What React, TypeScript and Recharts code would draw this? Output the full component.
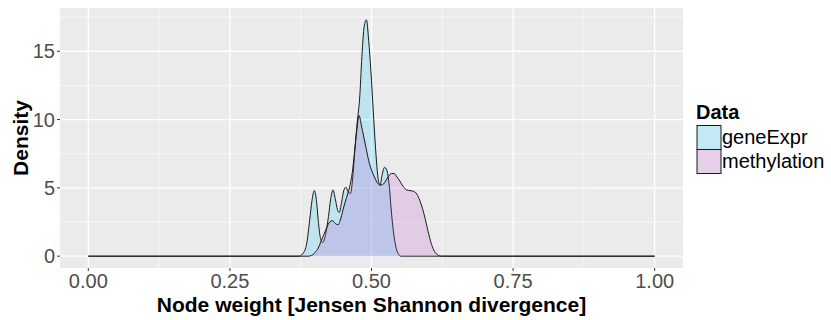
import React from 'react';
import { AreaChart, Area, XAxis, YAxis, CartesianGrid, Label } from 'recharts';

// density estimates for the two data sets (x = node weight, y = density)
const geneX = [
  0, 0.372, 0.378, 0.385, 0.391, 0.395, 0.399, 0.403, 0.406, 0.41, 0.414, 0.419, 0.424, 0.428, 0.432, 0.436,
  0.44, 0.443, 0.447, 0.451, 0.455, 0.459, 0.463, 0.467, 0.471, 0.475, 0.479, 0.483, 0.487, 0.491, 0.495,
  0.499, 0.503, 0.507, 0.511, 0.515, 0.519, 0.523, 0.527, 0.531, 0.535, 0.539, 0.543, 0.547, 0.552, 1,
];
const geneY = [
  0, 0, 0.15, 0.8, 2.7, 4.1, 4.8, 4.0, 2.6, 1.3, 1.0, 1.6, 2.9, 4.2, 4.85, 4.2,
  3.4, 3.2, 3.9, 4.8, 5.05, 4.7, 4.6, 5.8, 8.0, 9.9, 11.5, 14.6, 16.8, 17.3, 15.8,
  13.5, 10.7, 8.0, 5.9, 5.2, 6.0, 6.5, 6.3, 5.3, 3.3, 1.7, 0.7, 0.2, 0, 0,
];

const methX = [
  0, 0.388, 0.394, 0.4, 0.406, 0.411, 0.416, 0.421, 0.426, 0.431, 0.436, 0.441, 0.446, 0.451, 0.456, 0.461,
  0.466, 0.47, 0.474, 0.478, 0.482, 0.486, 0.49, 0.495, 0.5, 0.505, 0.51, 0.515, 0.52, 0.525, 0.53, 0.535,
  0.54, 0.545, 0.55, 0.556, 0.562, 0.568, 0.574, 0.58, 0.585, 0.59, 0.595, 0.6, 0.605, 0.61, 0.616, 0.624, 1,
];
const methY = [
  0, 0, 0.05, 0.25, 0.6, 1.1, 1.6, 2.1, 2.5, 2.6, 2.4, 2.3, 2.8, 3.6, 4.3, 5.0,
  6.1, 7.6, 9.2, 10.3, 9.6, 8.8, 8.0, 7.0, 6.3, 5.8, 5.4, 5.2, 5.25, 5.5, 5.85, 6.05,
  6.05, 5.8, 5.5, 5.1, 4.85, 4.8, 4.75, 4.55, 4.1, 3.5, 2.7, 1.8, 1.0, 0.45, 0.12, 0, 0,
];

const xTicks = [0, 0.25, 0.5, 0.75, 1];
const yTicks = [0, 5, 10, 15];
const xMinor = [0.125, 0.375, 0.625, 0.875];
const yMinor = [2.5, 7.5, 12.5, 17.5];

const series = [
  { key: 'geneExpr', color: '#10c8ff' },
  { key: 'methylation', color: '#b94bcd' },
];

const rows = Array.from(new Set([...geneX, ...methX]))
  .sort((a, b) => a - b)
  .map(x => {
    const gi = geneX.indexOf(x);
    const mi = methX.indexOf(x);
    return {
      x,
      geneExpr: gi >= 0 ? geneY[gi] : undefined,
      methylation: mi >= 0 ? methY[mi] : undefined,
    };
  });

const FONT = '"Liberation Sans", Arial, sans-serif';

const XTitle = (props: any) => {
  const vb = props.viewBox;
  return (
    <text x={vb.x + vb.width / 2} y={vb.y + 44} textAnchor="middle" fontFamily={FONT} fontSize={21} fontWeight="bold" fill="#000">
      Node weight [Jensen Shannon divergence]
    </text>
  );
};

const YTitle = (props: any) => {
  const vb = props.viewBox;
  const x = vb.x + 28;
  const y = vb.y + vb.height / 2;
  return (
    <text x={x} y={y} transform={`rotate(-90, ${x}, ${y})`} textAnchor="middle" fontFamily={FONT} fontSize={21} fontWeight="bold" fill="#000">
      Density
    </text>
  );
};

const App = () => {
  return (
    <div style={{ position: 'absolute', left: 0, top: 0, width: 831, height: 320, background: '#fff' }}>
      <AreaChart width={831} height={320} data={rows} margin={{ top: 8, right: 148, bottom: 0, left: 0 }}>
        <CartesianGrid fill="#ebebeb" stroke="#fff" strokeWidth={0.6} horizontalValues={yMinor} verticalValues={xMinor} />
        <CartesianGrid fill="none" stroke="#fff" strokeWidth={1.3} horizontalValues={yTicks} verticalValues={xTicks} />
        <XAxis
          type="number"
          dataKey="x"
          domain={[-0.05, 1.05]}
          allowDataOverflow
          ticks={xTicks}
          tickFormatter={(v: number) => v.toFixed(2)}
          height={52}
          axisLine={false}
          tickSize={3}
          tickMargin={3}
          tickLine={{ stroke: '#333' }}
          tick={{ fill: '#4d4d4d', fontSize: 20, fontFamily: FONT }}
        >
          <Label content={XTitle} />
        </XAxis>
        <YAxis
          type="number"
          domain={[-0.865, 18.165]}
          allowDataOverflow
          ticks={yTicks}
          width={60}
          axisLine={false}
          tickSize={3}
          tickMargin={2}
          tickLine={{ stroke: '#333' }}
          tick={{ fill: '#4d4d4d', fontSize: 20, fontFamily: FONT }}
        >
          <Label content={YTitle} />
        </YAxis>
        {series.map(s => (
          <Area
            key={s.key}
            dataKey={s.key}
            type="monotone"
            connectNulls
            isAnimationActive={false}
            fill={s.color}
            fillOpacity={0.2}
            stroke="#1a1a1a"
            strokeWidth={1}
            dot={false}
            activeDot={false}
          />
        ))}
      </AreaChart>
      <svg width={831} height={320} style={{ position: 'absolute', left: 0, top: 0, pointerEvents: 'none' }}>
        <text x={696} y={118.5} fontFamily={FONT} fontSize={20} fontWeight="bold" fill="#000">
          Data
        </text>
        {series.map((s, i) => (
          <g key={s.key}>
            <rect x={697} y={125.5 + i * 24} width={24} height={24} fill="#f2f2f2" />
            <rect x={697} y={125.5 + i * 24} width={24} height={24} fill={s.color} fillOpacity={0.2} stroke="#1a1a1a" strokeWidth={1} />
            <text x={722} y={143.5 + i * 24} fontFamily={FONT} fontSize={20} fill="#000">
              {s.key}
            </text>
          </g>
        ))}
      </svg>
    </div>
  );
};

export default App;
